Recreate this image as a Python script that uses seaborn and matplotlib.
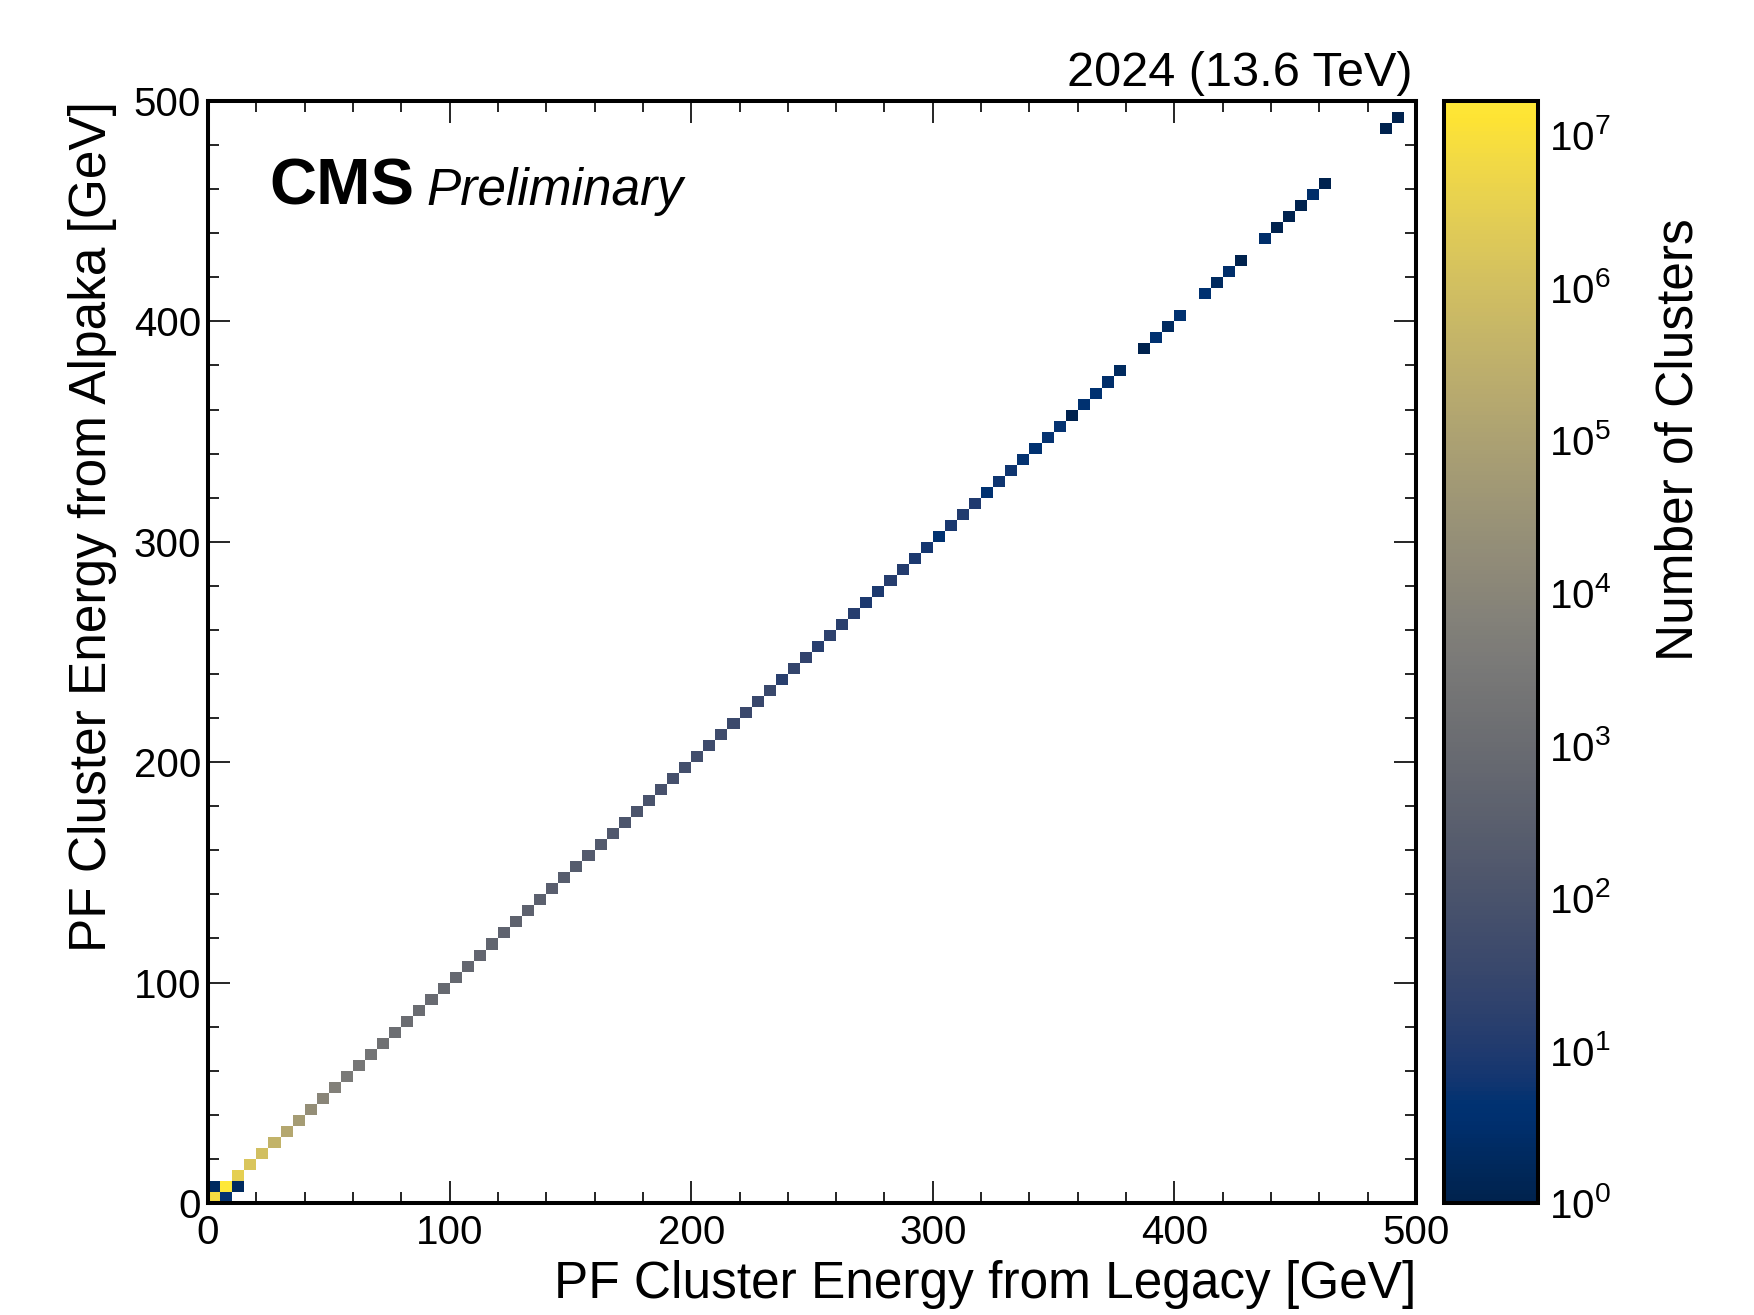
import numpy as np
import pandas as pd
import seaborn as sns
import matplotlib.pyplot as plt
from matplotlib.ticker import MultipleLocator, LogLocator, NullFormatter

# counts on the diagonal, one per 5 GeV bin from 0 to 500 GeV (legacy bin == alpaka bin)
diag_counts = [
    8000000, 16600000, 3200000, 1600000, 1000000, 400000, 160000, 63000, 22000, 10000,
    6300, 3500, 2500, 2000, 1600, 1250, 1100, 1000, 900, 800,
    720, 640, 580, 520, 460, 410, 370, 330, 290, 260,
    230, 200, 190, 160, 120, 110, 95, 88, 75, 70,
    60, 48, 52, 40, 36, 32, 35, 15, 26, 23,
    14, 18, 16, 14, 9, 9, 13, 12, 9, 7,
    4, 8, 11, 10, 4, 6, 6, 5, 4, 5,
    5, 1, 4, 4, 3, 2, 0, 1, 4, 2,
    4, 0, 4, 2, 3, 1, 0, 3, 1, 1,
    1, 3, 1, 0, 0, 0, 0, 1, 1, 0,
]
# the few off-diagonal cells near the origin
offdiag_xbin = [1, 0, 2]
offdiag_ybin = [0, 1, 1]
offdiag_counts = [5, 2, 2]

bin_width = 5.0
e_max = 500.0
z_max = 1.66e7

n_bins = len(diag_counts)
xbins = list(range(n_bins)) + offdiag_xbin
ybins = list(range(n_bins)) + offdiag_ybin
df = pd.DataFrame({
    "legacy": (np.array(xbins) + 0.5) * bin_width,
    "alpaka": (np.array(ybins) + 0.5) * bin_width,
    "n": diag_counts + offdiag_counts,
})
df = df[df["n"] > 0]

sns.set_style("ticks")
plt.rcParams["font.family"] = ["Liberation Sans", "DejaVu Sans"]
plt.rcParams["mathtext.default"] = "regular"
plt.rcParams["text.color"] = "black"
plt.rcParams["axes.labelcolor"] = "black"

fig = plt.figure(figsize=(17.54, 13.15), dpi=100)
ax = fig.add_axes([0.1186, 0.0852, 0.6887, 0.8380])
cax = fig.add_axes([0.8233, 0.0852, 0.0536, 0.8380])

sns.histplot(data=df, x="legacy", y="alpaka", weights="n", bins=n_bins, binrange=(0, e_max),
             cmap="cividis", norm="log", vmin=1, vmax=z_max, cbar=True, cbar_ax=cax, ax=ax,
             linewidth=0)

ax.set_xlim(0, e_max)
ax.set_ylim(0, e_max)
for sp in ax.spines.values():
    sp.set_linewidth(2.9)
    sp.set_color("black")
    sp.set_visible(True)

ax.xaxis.set_major_locator(MultipleLocator(100))
ax.xaxis.set_minor_locator(MultipleLocator(20))
ax.yaxis.set_major_locator(MultipleLocator(100))
ax.yaxis.set_minor_locator(MultipleLocator(20))
ax.tick_params(which="both", direction="in", top=True, right=True, width=1.2, colors="black",
               labelsize=29)
ax.tick_params(which="major", length=16)
ax.tick_params(which="minor", length=8)
ax.tick_params(axis="x", pad=8)
ax.tick_params(axis="y", pad=5)

ax.set_xlabel("PF Cluster Energy from Legacy [GeV]", fontsize=37, loc="right", color="black")
ax.set_ylabel("PF Cluster Energy from Alpaka [GeV]", fontsize=37, loc="top", color="black")
ax.xaxis.set_label_coords(1.0, -0.052)
ax.yaxis.set_label_coords(-0.075, 1.0)

ax.text(0.051, 0.906, "CMS", transform=ax.transAxes, fontsize=47, fontweight="bold",
        ha="left", va="baseline", color="black")
ax.text(0.1805, 0.906, "Preliminary", transform=ax.transAxes, fontsize=37, style="italic",
        ha="left", va="baseline", color="black")
ax.text(0.997, 1.0136, "2024 (13.6 TeV)", transform=ax.transAxes, fontsize=35,
        ha="right", va="baseline", color="black")

cbar = ax.collections[0].colorbar
cbar.outline.set_linewidth(2.9)
cbar.outline.set_edgecolor("black")
cax.yaxis.set_major_locator(LogLocator(base=10))
cax.yaxis.set_minor_locator(LogLocator(base=10, subs=np.arange(2, 10)))
cax.yaxis.set_minor_formatter(NullFormatter())
cax.tick_params(which="both", direction="in", right=True, left=False, width=1.2,
                labelsize=29, pad=8, colors="black")
cax.tick_params(which="major", length=16)
cax.tick_params(which="minor", length=8)

fig.text(0.957, 0.666, "Number of Clusters", rotation=90, fontsize=37, ha="center", va="center",
         color="black")

fig.savefig("out.png", dpi=100, facecolor="white")
